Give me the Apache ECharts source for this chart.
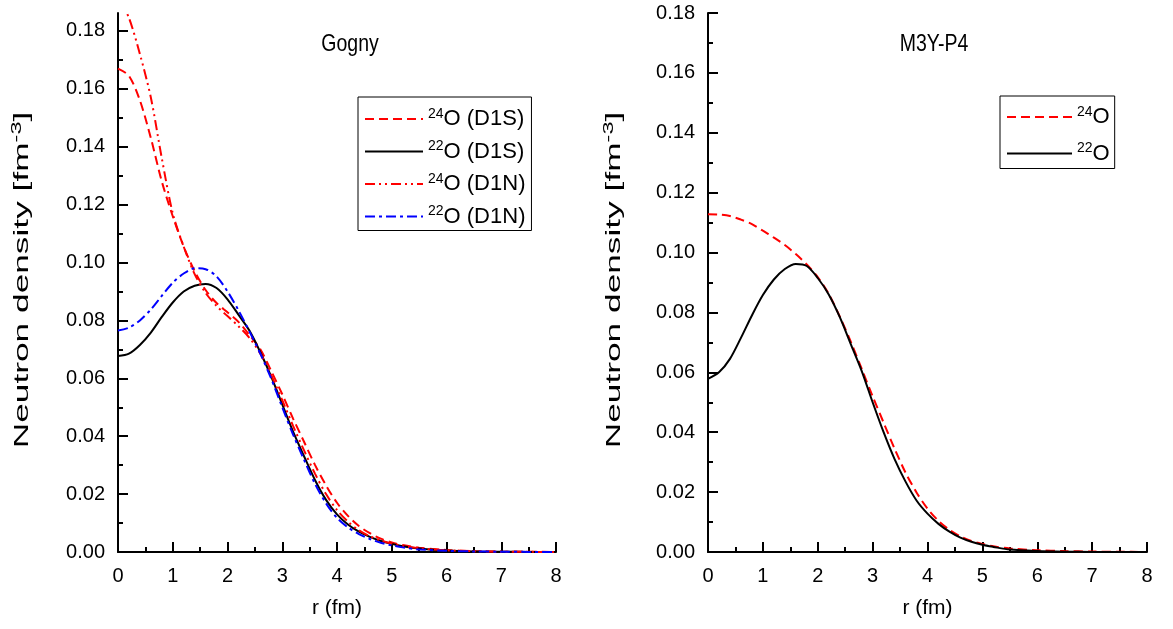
<!DOCTYPE html>
<html><head><meta charset="utf-8">
<script src="https://cdn.jsdelivr.net/npm/echarts@6/dist/echarts.min.js"></script>
<style>html,body{margin:0;padding:0;background:#fff}#c{width:1173px;height:629px}</style>
</head><body><div id="c"></div>
<script>
const r = [0,0.2,0.4,0.6,0.8,1.0,1.2,1.4,1.6,1.8,2.0,2.2,2.4,2.6,2.8,3.0,3.2,3.4,3.6,3.8,4.0,4.2,4.4,4.6,4.8,5.0,5.2,5.5,6.0,6.5,7.0,7.5,8.0];
const gogny_O24_D1S = [0.1670,0.1645,0.1560,0.1430,0.1280,0.1160,0.1055,0.0970,0.0905,0.0860,0.0828,0.0795,0.0750,0.0700,0.0625,0.0545,0.0460,0.0380,0.0300,0.0230,0.0170,0.0125,0.0090,0.0065,0.0046,0.0033,0.0024,0.0015,0.0007,0.0003,0.00015,0.00007,0.00003];
const gogny_O22_D1S = [0.0677,0.0685,0.0715,0.0758,0.0812,0.0862,0.0900,0.0920,0.0926,0.0912,0.0873,0.0820,0.0765,0.0690,0.0605,0.0510,0.0415,0.0330,0.0248,0.0180,0.0130,0.0095,0.0070,0.0052,0.0038,0.0028,0.0020,0.0012,0.0005,0.0002,0.0001,0.00004,0.00002];
const gogny_O24_D1N = [0.1920,0.1845,0.1720,0.1570,0.1360,0.1170,0.1055,0.0960,0.0895,0.0850,0.0815,0.0780,0.0740,0.0685,0.0610,0.0525,0.0435,0.0350,0.0270,0.0200,0.0145,0.0105,0.0075,0.0054,0.0040,0.0029,0.0021,0.0013,0.0006,0.0003,0.0001,0.00005,0.00002];
const gogny_O22_D1N = [0.0765,0.0775,0.0800,0.0838,0.0885,0.0930,0.0962,0.0980,0.0977,0.0952,0.0900,0.0835,0.0762,0.0685,0.0598,0.0500,0.0405,0.0318,0.0235,0.0168,0.0118,0.0085,0.0062,0.0045,0.0032,0.0023,0.0016,0.0009,0.0004,0.0002,0.0001,0.00004,0.00002];
const m3y_O24 = [0.1128,0.1127,0.1122,0.1110,0.1095,0.1073,0.1050,0.1025,0.0995,0.0960,0.0918,0.0862,0.0787,0.0703,0.0612,0.0520,0.0432,0.0345,0.0265,0.0199,0.0145,0.0104,0.0074,0.0052,0.0037,0.0027,0.0019,0.0012,0.0006,0.0003,0.00015,0.00007,0.00003];
const m3y_O22 = [0.0578,0.0600,0.0645,0.0715,0.0790,0.0858,0.0910,0.0945,0.0962,0.0955,0.0915,0.0860,0.0785,0.0695,0.0605,0.0500,0.0400,0.0310,0.0235,0.0172,0.0128,0.0094,0.0068,0.0048,0.0034,0.0024,0.0017,0.0008,0.0003,0.0001,0.00004,0.00002,0.00001];
const yMajor = [0,0.02,0.04,0.06,0.08,0.10,0.12,0.14,0.16,0.18];
const yMinor = [0.01,0.03,0.05,0.07,0.09,0.11,0.13,0.15,0.17];
const titles = ['Gogny','M3Y-P4'];
const legendLeft = ['24O (D1S)','22O (D1S)','24O (D1N)','22O (D1N)'];
const legendRight = ['24O','22O'];
const yName = 'Neutron density [fm{sup|-3}]';
const xName = 'r (fm)';

const FONT = 'Liberation Sans';
const pair = v => r.map((x,i)=>[x,v[i]]);
const supRich = {sup:{fontSize:14,verticalAlign:'top',padding:[0,0,10,0],fontFamily:FONT,color:'#000'}};

const grids = [
  {left:118, right:617, top:13, bottom:77},
  {left:708, right:26, top:13, bottom:77}
];
const ymax = [0.1862, 0.18];

function xAxis(gi){
  return {type:'value', gridIndex:gi, min:0, max:8, interval:1,
    name:xName, nameLocation:'middle', nameGap:46,
    nameTextStyle:{fontFamily:FONT,fontSize:21,color:'#000'},
    axisLine:{lineStyle:{color:'#000',width:2}},
    axisTick:{inside:true,length:10,lineStyle:{color:'#000',width:2}},
    minorTick:{show:true,splitNumber:2,length:5,lineStyle:{color:'#000',width:2}},
    axisLabel:{fontFamily:FONT,fontSize:20,color:'#000',margin:14},
    splitLine:{show:false}};
}
function yAxis(gi){
  return {type:'value', gridIndex:gi, position:'left', min:0, max:ymax[gi],
    axisLine:{lineStyle:{color:'#000',width:2}},
    axisTick:{inside:true,length:10,customValues:yMajor,lineStyle:{color:'#000',width:2}},
    axisLabel:{fontFamily:FONT,fontSize:20,color:'#000',margin:13,customValues:yMajor,formatter:v=>v.toFixed(2)},
    splitLine:{show:false}};
}
function yMinorAxis(gi){
  return {type:'value', gridIndex:gi, position:'left', offset:0, min:0, max:ymax[gi],
    axisLine:{show:false},
    axisTick:{inside:true,length:5,customValues:yMinor,lineStyle:{color:'#000',width:2}},
    axisLabel:{show:false},
    splitLine:{show:false}};
}
function line(name, data, xi, yi, color, type){
  return {name, type:'line', xAxisIndex:xi, yAxisIndex:yi, data:pair(data),
    showSymbol:false, symbol:'none', smooth:0.3, clip:true,
    lineStyle:{color, width:2, type}, itemStyle:{color}};
}
const dash=[9,5], dashDotDot=[10,4,2,4,2,4], dashDot=[10,4,3,4];
const legText = {fontFamily:FONT,fontSize:22,color:'#000',lineHeight:24,rich:supRich};
const fmt = n => {const m = n.match(/^(\d+)(.*)$/); return '{sup|'+m[1]+'}'+m[2];};

function yNameText(cx){
  return {type:'text', x:cx, y:280, rotation:Math.PI/2, scaleX:1.68, scaleY:1,
    style:{text:yName, fontFamily:FONT, fontSize:21, fill:'#000', align:'center', verticalAlign:'middle',
      rich:{sup:{fontSize:14,verticalAlign:'top',padding:[0,0,9,0],fontFamily:FONT,fill:'#000'}}}};
}
function titleText(cx, t){
  return {type:'text', x:cx, y:45, scaleY:1.2,
    style:{text:t, fontFamily:FONT, fontSize:19.5, fill:'#000', align:'center', verticalAlign:'middle'}};
}

const option = {
  animation:false,
  backgroundColor:'#fff',
  grid: grids,
  graphic:[yNameText(22), yNameText(614), titleText(350, titles[0]), titleText(934, titles[1])],
  xAxis:[xAxis(0), xAxis(1)],
  yAxis:[yAxis(0), yAxis(1), yMinorAxis(0), yMinorAxis(1)],
  legend:[
    {data:legendLeft, orient:'vertical', left:358, top:97,
      itemWidth:58, itemHeight:14, itemGap:8.5, padding:[10,6,2,6],
      borderColor:'#000', borderWidth:1, formatter:fmt, textStyle:legText,
      itemStyle:{opacity:0}},
    {data:legendRight, orient:'vertical', left:1000, top:96,
      itemWidth:65, itemHeight:14, itemGap:12.5, padding:[9,5,3,6],
      borderColor:'#000', borderWidth:1, formatter:fmt, textStyle:legText,
      itemStyle:{opacity:0}}
  ],
  series:[
    line(legendLeft[0], gogny_O24_D1S, 0, 0, '#ff0000', dash),
    line(legendLeft[1], gogny_O22_D1S, 0, 0, '#000000', 'solid'),
    line(legendLeft[2], gogny_O24_D1N, 0, 0, '#ff0000', dashDotDot),
    line(legendLeft[3], gogny_O22_D1N, 0, 0, '#0000ff', dashDot),
    line(legendRight[0], m3y_O24, 1, 1, '#ff0000', dash),
    line(legendRight[1], m3y_O22, 1, 1, '#000000', 'solid')
  ]
};
const chart = echarts.init(document.getElementById('c'));
chart.setOption(option);
</script></body></html>
